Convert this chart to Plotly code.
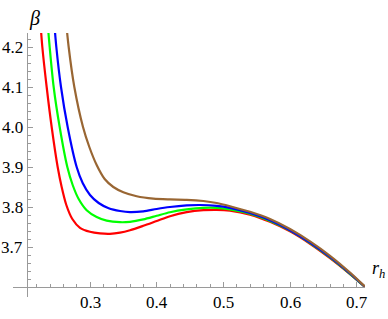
import plotly.graph_objects as go

# data
red_x = [0.224, 0.2285, 0.235, 0.2425, 0.2515, 0.2575, 0.2645, 0.2735, 0.285, 0.30, 0.315, 0.33, 0.345, 0.36, 0.38, 0.40, 0.42, 0.445, 0.47, 0.49, 0.51, 0.54, 0.57, 0.60, 0.63, 0.66, 0.69, 0.7125]
red_y = [4.30, 4.20, 4.10, 4.00, 3.90, 3.85, 3.805, 3.77, 3.748, 3.738, 3.734, 3.733, 3.736, 3.742, 3.753, 3.765, 3.777, 3.787, 3.792, 3.793, 3.791, 3.781, 3.763, 3.739, 3.708, 3.672, 3.632, 3.600]

green_x = [0.2345, 0.2395, 0.2455, 0.2545, 0.266, 0.274, 0.283, 0.295, 0.31, 0.325, 0.345, 0.36, 0.38, 0.40, 0.42, 0.445, 0.47, 0.49, 0.51, 0.54, 0.57, 0.60, 0.63, 0.66, 0.69, 0.7125]
green_y = [4.30, 4.20, 4.10, 4.00, 3.90, 3.855, 3.82, 3.792, 3.775, 3.766, 3.762, 3.763, 3.769, 3.778, 3.787, 3.794, 3.798, 3.798, 3.794, 3.783, 3.765, 3.741, 3.710, 3.674, 3.633, 3.600]

blue_x = [0.2445, 0.2495, 0.2565, 0.2665, 0.28, 0.289, 0.30, 0.313, 0.328, 0.345, 0.36, 0.38, 0.40, 0.42, 0.445, 0.465, 0.49, 0.51, 0.54, 0.57, 0.60, 0.63, 0.66, 0.69, 0.7125]
blue_y = [4.30, 4.20, 4.10, 4.00, 3.90, 3.86, 3.83, 3.81, 3.797, 3.79, 3.787, 3.789, 3.795, 3.80, 3.804, 3.805, 3.803, 3.798, 3.785, 3.767, 3.742, 3.711, 3.675, 3.634, 3.600]

brown_x = [0.262, 0.268, 0.2765, 0.2895, 0.299, 0.31, 0.322, 0.335, 0.35, 0.37, 0.395, 0.42, 0.445, 0.47, 0.49, 0.51, 0.54, 0.57, 0.60, 0.63, 0.66, 0.69, 0.7125]
brown_y = [4.30, 4.20, 4.10, 4.00, 3.95, 3.905, 3.87, 3.85, 3.837, 3.827, 3.821, 3.819, 3.818, 3.815, 3.81, 3.802, 3.788, 3.770, 3.745, 3.714, 3.678, 3.636, 3.601]

x_major = [0.3, 0.4, 0.5, 0.6, 0.7]
x_labels = ["0.3", "0.4", "0.5", "0.6", "0.7"]
x_minor = [0.22, 0.24, 0.26, 0.28, 0.32, 0.34, 0.36, 0.38, 0.42, 0.44, 0.46, 0.48,
           0.52, 0.54, 0.56, 0.58, 0.62, 0.64, 0.66, 0.68]
y_major = [3.7, 3.8, 3.9, 4.0, 4.1, 4.2]
y_labels = ["3.7", "3.8", "3.9", "4.0", "4.1", "4.2"]
y_minor = [3.62, 3.64, 3.66, 3.68, 3.72, 3.74, 3.76, 3.78, 3.82, 3.84, 3.86, 3.88,
           3.92, 3.94, 3.96, 3.98, 4.02, 4.04, 4.06, 4.08, 4.12, 4.14, 4.16, 4.18, 4.22]

series = [
    (red_x, red_y, "#FF0000"),
    (green_x, green_y, "#00FF00"),
    (blue_x, blue_y, "#0000FF"),
    (brown_x, brown_y, "#996633"),
]

fig = go.Figure()
for xs, ys, c in series:
    fig.add_trace(go.Scatter(x=xs, y=ys, mode="lines",
                             line=dict(color=c, width=2.2, shape="spline", smoothing=0.8),
                             showlegend=False, hoverinfo="skip"))

xr = [0.1845, 0.7125]
yr = [3.575, 4.235]
x_cross = 0.2048   # where the y axis sits
y_cross = 3.6      # where the x axis sits
x_pos = (y_cross - yr[0]) / (yr[1] - yr[0])
y_pos = (x_cross - xr[0]) / (xr[1] - xr[0])

serif = "Liberation Serif"
axis_col = "#9a9a9a"
lab_font = dict(family=serif, size=17, color="#000000")

fig.update_layout(
    width=388, height=319,
    margin=dict(l=13, r=23, t=33, b=22, autoexpand=False),
    paper_bgcolor="white", plot_bgcolor="white",
    font=dict(family=serif, size=17, color="#000000"),
)
fig.update_xaxes(range=xr, showgrid=False, zeroline=False, showline=True, automargin=False,
                 linecolor=axis_col, linewidth=1, anchor="free", position=x_pos,
                 tickmode="array", tickvals=x_major, showticklabels=False,
                 ticks="inside", ticklen=5, tickcolor=axis_col, tickwidth=1,
                 minor=dict(tickmode="array", tickvals=x_minor, ticks="inside",
                            ticklen=3, tickcolor=axis_col, tickwidth=1, showgrid=False))
fig.update_yaxes(range=yr, showgrid=False, zeroline=False, showline=True, automargin=False,
                 linecolor=axis_col, linewidth=1, anchor="free", position=y_pos,
                 tickmode="array", tickvals=y_major, showticklabels=False,
                 ticks="inside", ticklen=5, tickcolor=axis_col, tickwidth=1,
                 minor=dict(tickmode="array", tickvals=y_minor, ticks="inside",
                            ticklen=3, tickcolor=axis_col, tickwidth=1, showgrid=False))

annotations = []
for v, t in zip(x_major, x_labels):
    annotations.append(dict(text=t, x=v, y=y_cross, xref="x", yref="y", showarrow=False,
                            xanchor="center", yanchor="top", yshift=-4, font=lab_font))
for v, t in zip(y_major, y_labels):
    annotations.append(dict(text=t, x=x_cross, y=v, xref="x", yref="y", showarrow=False,
                            xanchor="right", yanchor="middle", xshift=-2, font=lab_font))
annotations.append(dict(text="<i>β</i>", xref="paper", yref="paper",
                        x=(27 - 13) / 352, y=(297 - 5) / 264, showarrow=False,
                        xanchor="left", yanchor="top",
                        font=dict(family=serif, size=20, color="#000")))
annotations.append(dict(text="<i>r</i><sub><i>h</i></sub>", xref="paper", yref="paper",
                        x=(387 - 13) / 352, y=(297 - 283) / 264, showarrow=False,
                        xanchor="right", yanchor="bottom",
                        font=dict(family=serif, size=18, color="#000")))
fig.update_layout(annotations=annotations)

fig.write_html("out.html", config={"displayModeBar": False},
               post_script="document.body.style.margin='0';document.body.style.overflow='hidden';")
